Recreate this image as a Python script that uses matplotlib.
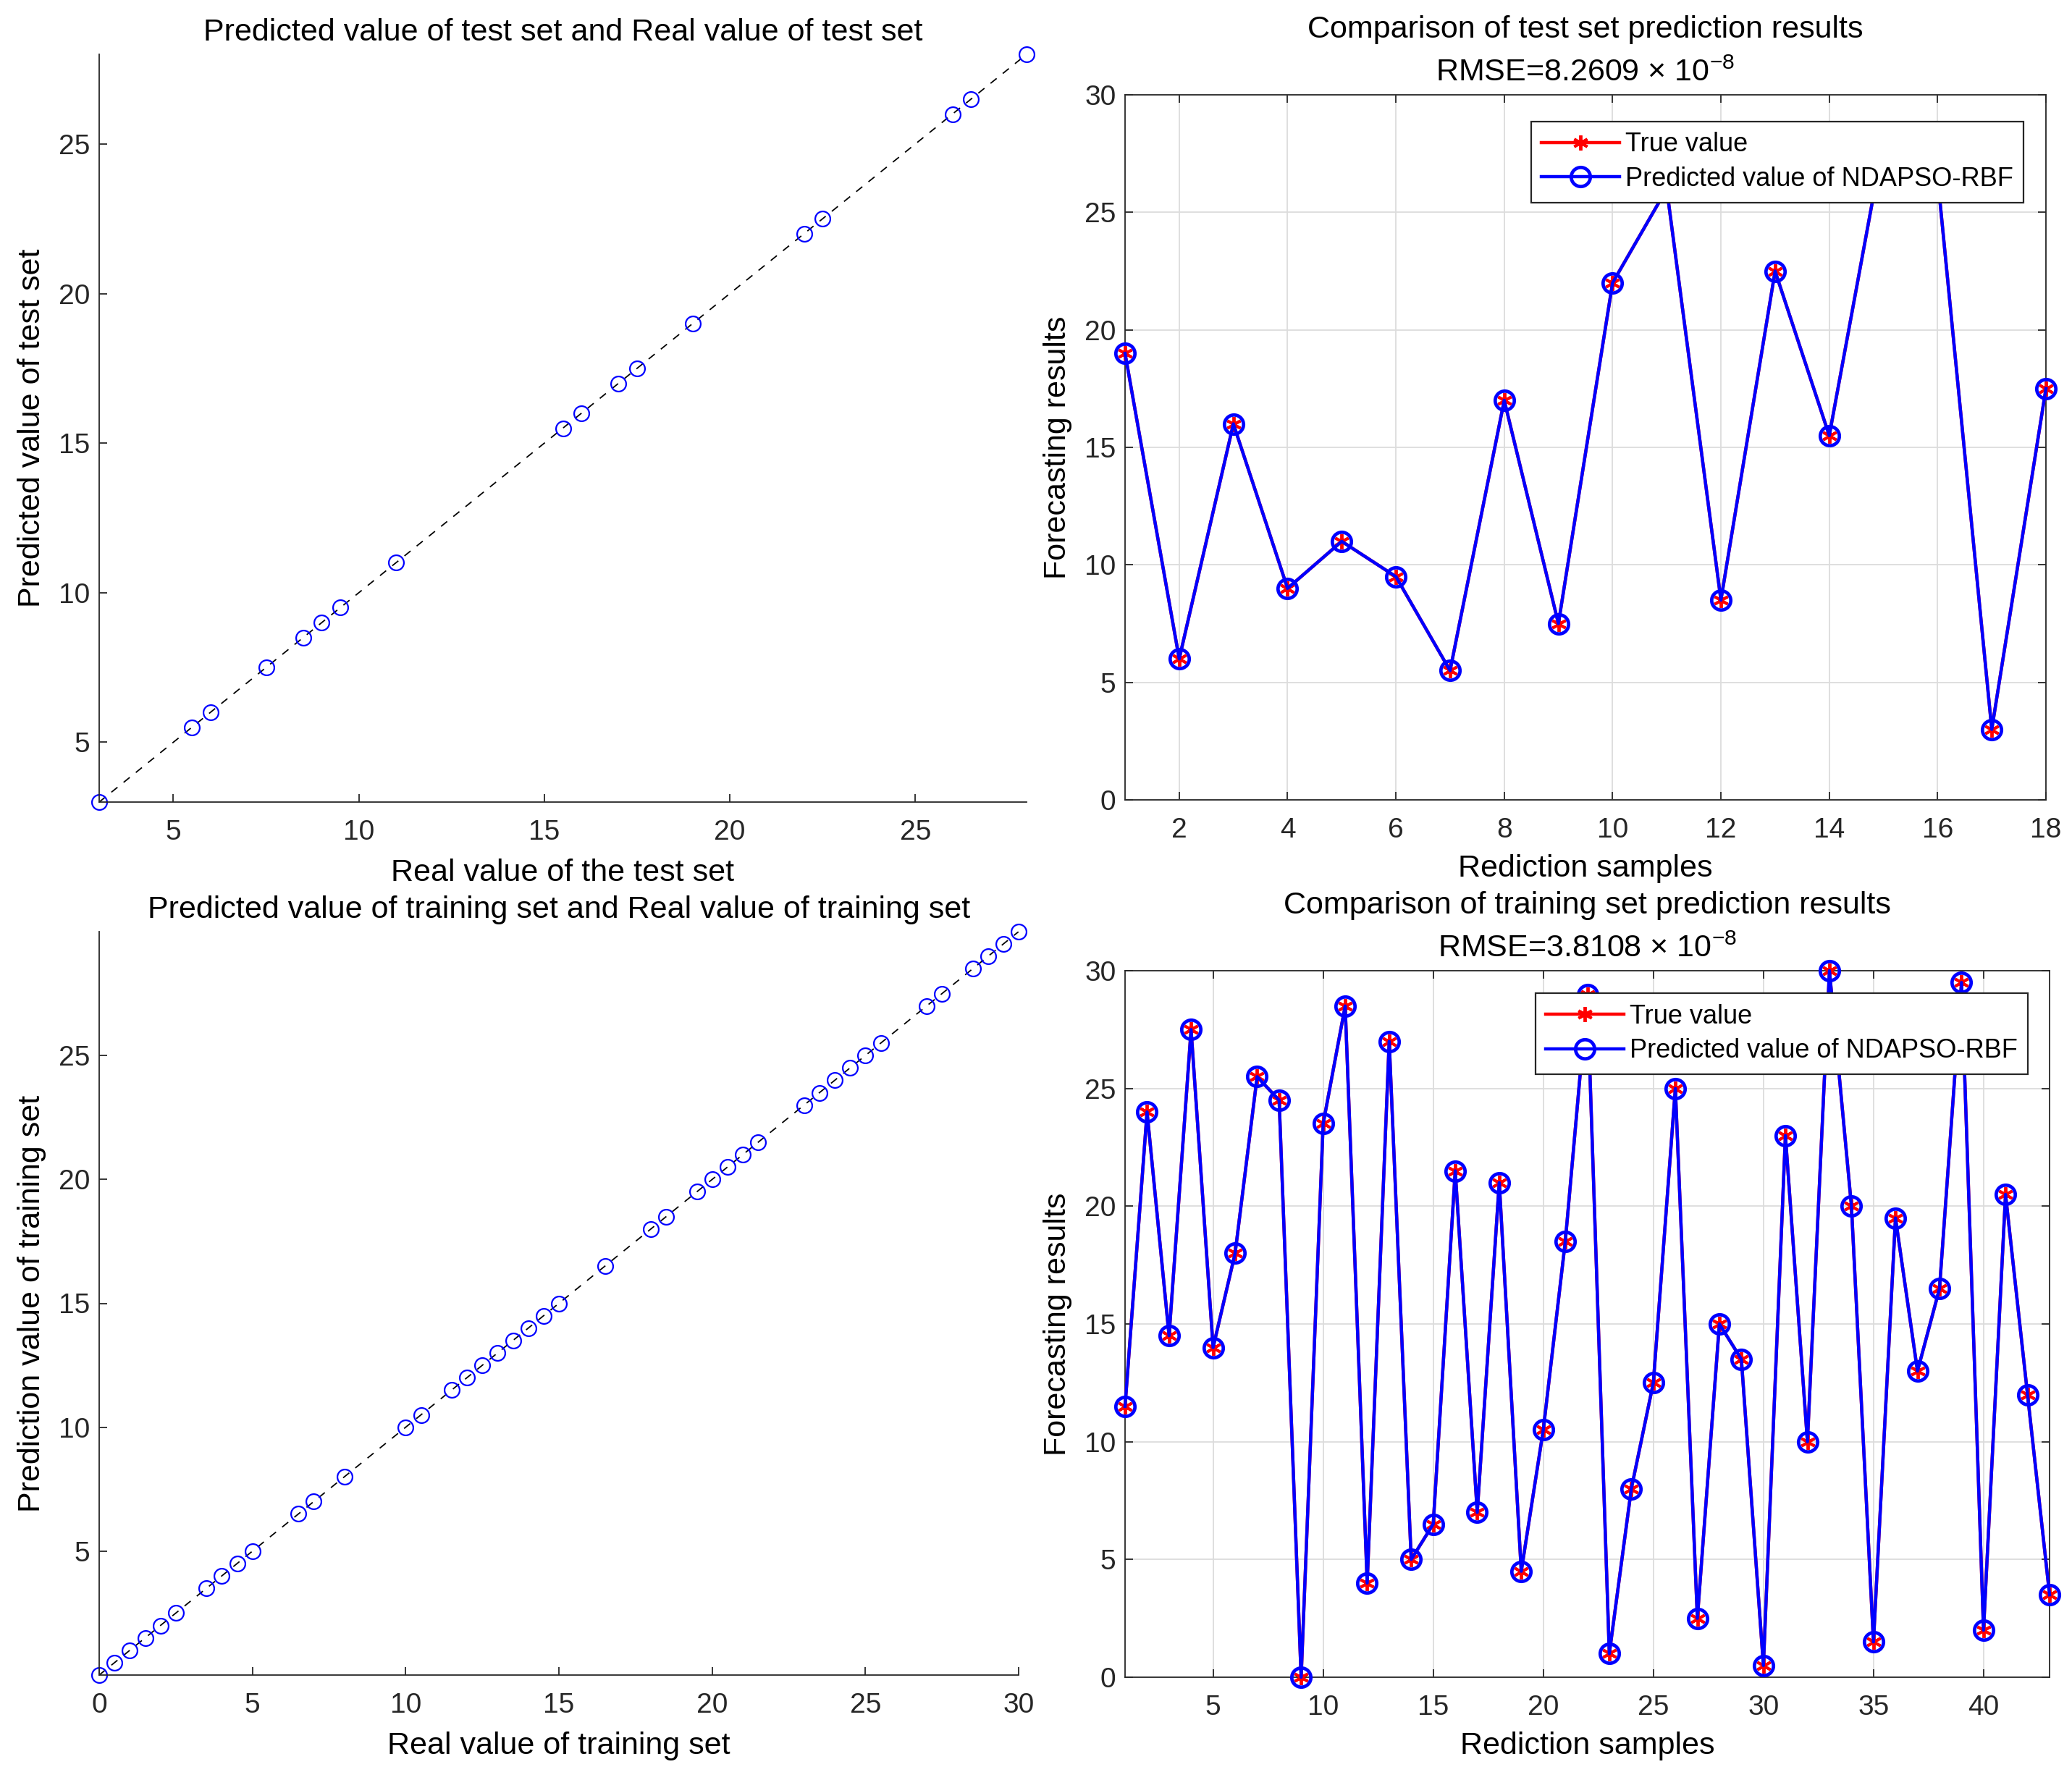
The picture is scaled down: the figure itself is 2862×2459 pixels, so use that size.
import matplotlib
matplotlib.use("Agg")
import matplotlib.pyplot as plt

plt.rcParams['font.family'] = ['Liberation Sans', 'DejaVu Sans']
plt.rcParams['mathtext.fontset'] = 'custom'
plt.rcParams['mathtext.rm'] = 'Liberation Sans'
plt.rcParams['mathtext.it'] = 'Liberation Sans'

# ---------------- data ----------------
test_samples = list(range(1, 19))
test_true = [19, 6, 16, 9, 11, 9.5, 5.5, 17, 7.5, 22, 26, 8.5, 22.5, 15.5, 28, 26.5, 3, 17.5]
test_pred = [19, 6, 16, 9, 11, 9.5, 5.5, 17, 7.5, 22, 26, 8.5, 22.5, 15.5, 28, 26.5, 3, 17.5]

train_samples = list(range(1, 44))
train_true = [11.5, 24, 14.5, 27.5, 14, 18, 25.5, 24.5, 0, 23.5, 28.5, 4, 27, 5, 6.5,
              21.5, 7, 21, 4.5, 10.5, 18.5, 29, 1, 8, 12.5, 25, 2.5, 15, 13.5, 0.5,
              23, 10, 30, 20, 1.5, 19.5, 13, 16.5, 29.5, 2, 20.5, 12, 3.5]
train_pred = list(train_true)

test_rmse_label = r'RMSE=8.2609 × 10$^{-8}$'
train_rmse_label = r'RMSE=3.8108 × 10$^{-8}$'

W, H = 2862, 2459
fig = plt.figure(figsize=(W / 100, H / 100), dpi=100)

def frac(l, t, r, b):
    return [l / W, 1 - b / H, (r - l) / W, (b - t) / H]

ax_tl = fig.add_axes(frac(137, 75, 1418, 1108))
ax_tr = fig.add_axes(frac(1554, 131, 2826, 1105))
ax_bl = fig.add_axes(frac(137, 1287, 1407, 2314))
ax_br = fig.add_axes(frac(1554, 1341, 2831, 2317))

TICK = 28
LAB = 31
TTL = 31
LEG = 26
SPC = '#262626'

def style(ax, box):
    for s in ax.spines.values():
        s.set_color(SPC)
        s.set_linewidth(1.3)
    if not box:
        ax.spines['top'].set_visible(False)
        ax.spines['right'].set_visible(False)
    ax.tick_params(direction='in', length=8, width=1.3, color=SPC,
                   labelsize=TICK, labelcolor='#262626',
                   top=box, right=box)
    ax.tick_params(axis='x', pad=17)
    ax.tick_params(axis='y', pad=9)

# ---- scatter plots ----
def scatter_panel(ax, real, pred, title, xlabel, ylabel, xt, yt):
    lo, hi = min(real), max(real)
    ax.plot([lo, hi], [lo, hi], linestyle=(0, (6, 6)), color='k', lw=1.3, zorder=1)
    ax.plot(real, pred, linestyle='none', marker='o', markersize=15,
            markerfacecolor='none', markeredgecolor='#0000ff', markeredgewidth=1.6, zorder=2,
            clip_on=False)
    ax.set_xlim(lo, hi)
    ax.set_ylim(lo, hi)
    ax.set_xticks(xt)
    ax.set_yticks(yt)
    style(ax, False)
    ax.set_title(title, fontsize=TTL, pad=14)
    ax.set_xlabel(xlabel, fontsize=LAB, labelpad=13)
    ax.set_ylabel(ylabel, fontsize=LAB, labelpad=12)

scatter_panel(ax_tl, test_true, test_pred,
              'Predicted value of test set and Real value of test set',
              'Real value of the test set', 'Predicted value of test set',
              [5, 10, 15, 20, 25], [5, 10, 15, 20, 25])
scatter_panel(ax_bl, train_true, train_pred,
              'Predicted value of training set and Real value of training set',
              'Real value of training set', 'Prediction value of training set',
              [0, 5, 10, 15, 20, 25, 30], [5, 10, 15, 20, 25])

# ---- comparison plots ----
def compare_panel(ax, x, true, pred, title, rmse, xt, legend_anchor):
    ax.plot(x, true, color='#ff0000', lw=3.2, marker=(6, 2, 0), markersize=15,
            markeredgewidth=2.8, markeredgecolor='#ff0000', label='True value',
            clip_on=False, zorder=3)
    ax.plot(x, pred, color='#0000ff', lw=3.2, marker='o', markersize=19,
            markerfacecolor='none', markeredgewidth=3.4, markeredgecolor='#0000ff',
            label='Predicted value of NDAPSO-RBF', clip_on=False, zorder=4)
    ax.set_xlim(min(x), max(x))
    ax.set_ylim(0, 30)
    ax.set_xticks(xt)
    ax.set_yticks([0, 5, 10, 15, 20, 25, 30])
    ax.grid(True, color='#dcdcdc', lw=1.3)
    ax.set_axisbelow(True)
    style(ax, True)
    ax.set_title(title + '\n' + rmse, fontsize=TTL, pad=14, linespacing=1.6)
    ax.set_xlabel('Rediction samples', fontsize=LAB, labelpad=11)
    ax.set_ylabel('Forecasting results', fontsize=LAB, labelpad=12)
    leg = ax.legend(loc='upper right', bbox_to_anchor=legend_anchor, fontsize=LEG,
                    frameon=True, fancybox=False, framealpha=1, edgecolor='#262626',
                    handlelength=3.0, handletextpad=0.2, borderpad=0.4, labelspacing=0.35,
                    borderaxespad=0)
    leg.get_frame().set_linewidth(1.6)
    leg.set_zorder(10)

compare_panel(ax_tr, test_samples, test_true, test_pred,
              'Comparison of test set prediction results', test_rmse_label,
              [2, 4, 6, 8, 10, 12, 14, 16, 18], (0.9756, 0.962))
compare_panel(ax_br, train_samples, train_true, train_pred,
              'Comparison of training set prediction results', train_rmse_label,
              [5, 10, 15, 20, 25, 30, 35, 40], (0.9765, 0.968))

fig.savefig('out.png', dpi=100)
